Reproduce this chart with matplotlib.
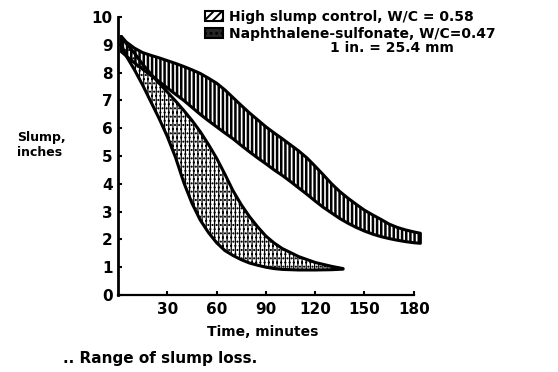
import matplotlib
matplotlib.use("Agg")
import matplotlib.pyplot as plt
from matplotlib.patches import Patch

plt.rcParams['font.family'] = ['DejaVu Sans']
plt.rcParams['font.weight'] = 'bold'

# High slump control band, W/C = 0.58 (time in minutes, slump in inches)
control_time = [2, 5, 10, 15, 20, 25, 30, 35, 40, 45, 50, 55, 60, 65, 70, 75, 80, 85, 90,
                95, 100, 105, 110, 115, 120, 125, 130, 135, 140, 145, 150, 155, 160, 165,
                170, 175, 180, 184]
control_upper = [9.3, 9.1, 8.88, 8.72, 8.62, 8.53, 8.43, 8.33, 8.22, 8.1, 7.97, 7.8, 7.62,
                 7.38, 7.1, 6.82, 6.55, 6.3, 6.05, 5.83, 5.62, 5.4, 5.18, 4.93, 4.63, 4.32,
                 4.0, 3.72, 3.48, 3.26, 3.05, 2.88, 2.72, 2.55, 2.43, 2.34, 2.27, 2.22]
control_lower = [8.75, 8.6, 8.35, 8.12, 7.9, 7.68, 7.45, 7.22, 7.0, 6.75, 6.5, 6.27, 6.05,
                 5.83, 5.62, 5.38, 5.15, 4.93, 4.72, 4.5, 4.3, 4.08, 3.85, 3.62, 3.38, 3.15,
                 2.95, 2.75, 2.58, 2.43, 2.3, 2.19, 2.1, 2.03, 1.97, 1.92, 1.88, 1.86]

# Naphthalene-sulfonate band, W/C = 0.47
naph_time = [2, 5, 10, 15, 20, 25, 30, 35, 40, 45, 50, 55, 60, 65, 70, 75, 80, 85, 90,
             95, 100, 110, 120, 130, 137]
naph_upper = [9.3, 9.05, 8.7, 8.3, 7.95, 7.62, 7.3, 6.98, 6.64, 6.28, 5.88, 5.42, 4.92, 4.35,
              3.75, 3.25, 2.82, 2.45, 2.12, 1.87, 1.67, 1.38, 1.17, 1.03, 0.95]
naph_lower = [9.0, 8.6, 8.1, 7.55, 6.95, 6.35, 5.7, 4.95, 4.05, 3.3, 2.7, 2.25, 1.88, 1.6,
              1.42, 1.27, 1.15, 1.07, 1.0, 0.95, 0.92, 0.9, 0.9, 0.91, 0.93]

x_ticks = [30, 60, 90, 120, 150, 180]
y_ticks = list(range(0, 11))

labels = ["High slump control, W/C = 0.58", "Naphthalene-sulfonate, W/C=0.47"]


def hatch_width(artist, w):
    # per-artist hatch width where this matplotlib supports it
    if hasattr(artist, 'set_hatch_linewidth'):
        artist.set_hatch_linewidth(w)


fig = plt.figure(figsize=(5.58, 3.72), dpi=100)
ax = fig.add_axes([0.2115, 0.207, 0.5477, 0.7473])

plt.rcParams['hatch.linewidth'] = 1.4

# lower (steep) band first, then the control band over it
naph = ax.fill_between(naph_time, naph_lower, naph_upper, facecolor='white',
                       edgecolor='black', hatch='||||....', linewidth=2.2)
hatch_width(naph, 0.9)
ctrl = ax.fill_between(control_time, control_lower, control_upper, facecolor='none',
                       edgecolor='black', hatch='||||', linewidth=2.2, clip_on=False)
hatch_width(ctrl, 1.8)

ax.set_xlim(0, 186)
ax.set_ylim(0, 10)
ax.spines['top'].set_visible(False)
ax.spines['right'].set_visible(False)
ax.spines['bottom'].set_bounds(0, 180)
ax.spines['left'].set_linewidth(2)
ax.spines['bottom'].set_linewidth(1.6)

ax.set_xticks(x_ticks)
ax.set_yticks(y_ticks)
ax.tick_params(direction='in', length=3, width=1.5, labelsize=11, pad=5)
ax.tick_params(axis='y', pad=4)
for lbl in ax.get_xticklabels() + ax.get_yticklabels():
    lbl.set_fontweight('bold')

# legend
handles = [Patch(facecolor='white', edgecolor='black', hatch='////', linewidth=1.5),
           Patch(facecolor='0.15', edgecolor='black', hatch='...', linewidth=1.5)]
fig.legend(handles, labels, loc='upper left', bbox_to_anchor=(0.35, 1.0),
           frameon=False, handlelength=1.3, handleheight=0.7,
           handletextpad=0.45, labelspacing=0.2, borderaxespad=0.3,
           prop={'weight': 'bold', 'size': 10})

fig.text(330 / 558, 1 - 48 / 372, "1 in. = 25.4 mm", fontsize=10,
         fontweight='bold', va='center', ha='left')
fig.text(17 / 558, 1 - 145 / 372, "Slump,\ninches", fontsize=9,
         fontweight='bold', va='center', ha='left', linespacing=1.1)
fig.text(263 / 558, 1 - 332 / 372, "Time, minutes", fontsize=10,
         fontweight='bold', va='center', ha='center')
fig.text(63 / 558, 1 - 358 / 372, ".. Range of slump loss.", fontsize=11,
         fontweight='bold', va='center', ha='left')

fig.savefig("out.png", dpi=100)
